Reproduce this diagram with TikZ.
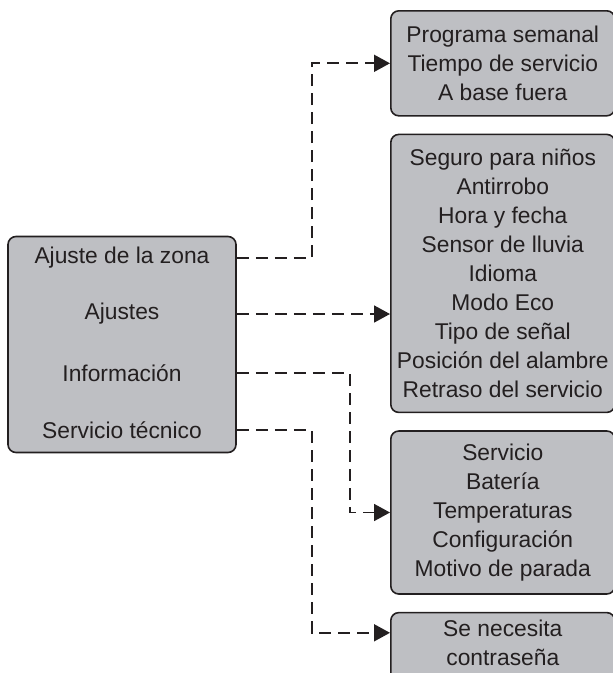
\documentclass[tikz,border=0pt]{standalone}
\usepackage{fontspec}
\setmainfont{Liberation Sans}
\usetikzlibrary{arrows.meta, positioning, calc}
\definecolor{boxfill}{RGB}{190,191,195}
\definecolor{ink}{RGB}{35,31,32}

\begin{document}
\begin{tikzpicture}[
    x=1pt, y=-1pt,
    node distance=17pt,
    every node/.style={font=\fontsize{22.8}{29}\selectfont, text=ink},
    menu/.style={draw=ink, line width=1.6pt, fill=boxfill, rounded corners=8pt,
                 minimum width=228pt, minimum height=216pt},
    sub/.style={draw=ink, line width=1.6pt, fill=boxfill, rounded corners=8pt,
                minimum width=224pt, align=center, inner sep=0pt},
    arr/.style={-{Triangle[length=16pt,width=17pt]}, draw=ink, line width=1.8pt,
                dash pattern=on 12pt off 7pt}
]
\clip (0,0) rectangle (613,673);
% main menu
\node[menu] (menu) at (122,344.5) {};
\node (zona)     at (122,258) {Ajuste de la zona};
\node (ajustes)  at (122,314) {Ajustes};
\node (info)     at (122,373) {Información};
\node (servicio) at (122,430) {Servicio técnico};
% sub menus
\node[sub, minimum height=105pt, anchor=north west] (progbox) at (390,10)
     {Programa semanal\\Tiempo de servicio\\A base fuera};
\node[sub, minimum height=278pt, below=of progbox] (ajustbox)
     {Seguro para niños\\Antirrobo\\Hora y fecha\\Sensor de lluvia\\Idioma\\
      Modo Eco\\Tipo de señal\\Posición del alambre\\Retraso del servicio};
\node[sub, minimum height=163pt, below=of ajustbox] (infobox)
     {Servicio\\Batería\\Temperaturas\\Configuración\\Motivo de parada};
\node[sub, minimum height=70pt, text depth=9pt, below=of infobox] (pwdbox)
     {Se necesita\\contraseña};
\coordinate (pwdin) at ($(pwdbox.north west)+(0,21)$);
% links
\draw[arr] (zona -| menu.east) -- ++(75,0) |- (progbox.west);
\draw[arr] (ajustes -| menu.east) -- (ajustes -| ajustbox.west);
\draw[arr] (info -| menu.east) -- ++(113,0) |- (infobox.west);
\draw[arr] (servicio -| menu.east) -- ++(75,0) |- (pwdin);
\end{tikzpicture}
\end{document}
